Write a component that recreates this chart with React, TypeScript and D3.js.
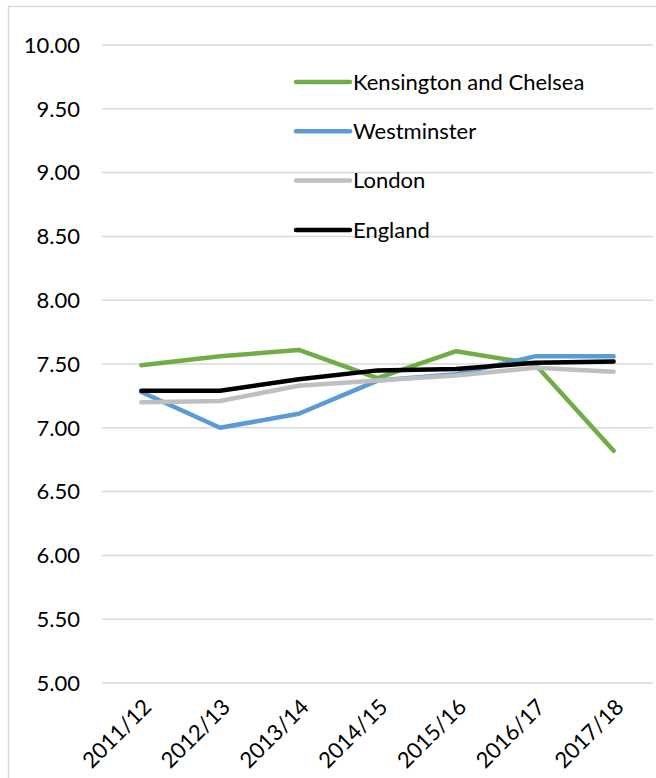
import { useEffect, useRef } from "react";
import * as d3 from "d3";

const years = ["2011/12", "2012/13", "2013/14", "2014/15", "2015/16", "2016/17", "2017/18"];
const kensington = [7.49, 7.56, 7.61, 7.39, 7.6, 7.5, 6.82];
const westminster = [7.28, 7.0, 7.11, 7.37, 7.42, 7.56, 7.56];
const london = [7.2, 7.21, 7.33, 7.37, 7.41, 7.47, 7.44];
const england = [7.29, 7.29, 7.38, 7.45, 7.46, 7.51, 7.52];
const yTicks = [5, 5.5, 6, 6.5, 7, 7.5, 8, 8.5, 9, 9.5, 10];

const series = [
  { name: "Kensington and Chelsea", values: kensington, color: "#70AD47" },
  { name: "Westminster", values: westminster, color: "#5B9BD5" },
  { name: "London", values: london, color: "#BFBFBF" },
  { name: "England", values: england, color: "#000000" },
];

export default function App() {
  const svgRef = useRef<SVGSVGElement | null>(null);

  useEffect(() => {
    document.body.style.margin = "0";
    const width = 656;
    const height = 778;
    const margin = { top: 45, right: 3, bottom: 95, left: 102 };
    const fontSize = 22;
    const font = "Lato, 'Open Sans', sans-serif";

    const svg = d3.select(svgRef.current).attr("width", width).attr("height", height);
    svg.selectAll("*").remove();

    svg.append("rect").attr("x", 8.5).attr("y", 6.5).attr("width", 700).attr("height", 800)
      .attr("fill", "#fff").attr("stroke", "#D9D9D9").attr("stroke-width", 1.5);

    const x = d3.scaleBand().domain(years).range([margin.left, width - margin.right]);
    const y = d3.scaleLinear().domain([5, 10]).range([height - margin.bottom, margin.top]);
    const cx = (d: string) => (x(d) ?? 0) + x.bandwidth() / 2;

    // gridlines
    svg.append("g").selectAll("line").data(yTicks).join("line")
      .attr("x1", margin.left).attr("x2", width - margin.right)
      .attr("y1", d => y(d)).attr("y2", d => y(d))
      .attr("stroke", "#D9D9D9").attr("stroke-width", 1.5);

    // y labels
    svg.append("g").selectAll("text").data(yTicks).join("text")
      .attr("x", 80).attr("y", d => y(d)).attr("dy", "0.35em")
      .attr("text-anchor", "end").style("font-family", font).style("font-size", `${fontSize}px`)
      .attr("fill", "#000").text(d => d.toFixed(2));

    // x labels
    svg.append("g").selectAll("text").data(years).join("text")
      .attr("transform", d => `translate(${cx(d) + 6},${height - margin.bottom + 20}) rotate(-45)`)
      .attr("text-anchor", "end").attr("dy", "0.35em")
      .style("font-family", font).style("font-size", `${fontSize}px`).attr("fill", "#000")
      .text(d => d);

    const line = d3.line<number>().x((_, i) => cx(years[i])).y(d => y(d));

    svg.append("g").selectAll("path").data(series).join("path")
      .attr("d", d => line(d.values))
      .attr("fill", "none").attr("stroke", d => d.color).attr("stroke-width", 4.5)
      .attr("stroke-linejoin", "round").attr("stroke-linecap", "round");

    // legend
    const legend = svg.append("g").attr("transform", "translate(296,82)");
    const item = legend.selectAll("g").data(series).join("g")
      .attr("transform", (_, i) => `translate(0,${i * 49.3})`);
    item.append("line").attr("x1", 0).attr("x2", 54).attr("y1", 0).attr("y2", 0)
      .attr("stroke", d => d.color).attr("stroke-width", 4.5).attr("stroke-linecap", "round");
    item.append("text").attr("x", 57).attr("dy", "0.35em")
      .style("font-family", font).style("font-size", `${fontSize}px`).attr("fill", "#000")
      .text(d => d.name);
  }, []);

  return <svg ref={svgRef} style={{ display: "block" }}></svg>;
}
